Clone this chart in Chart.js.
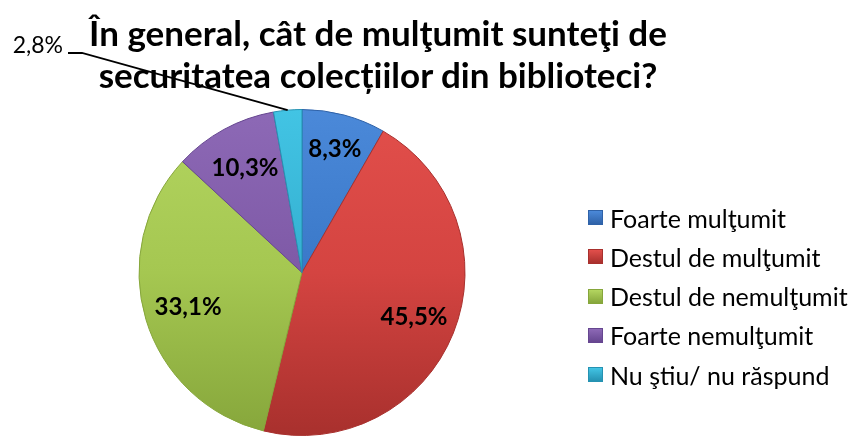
<!DOCTYPE html>
<html>
<head>
<meta charset="utf-8">
<script src="https://cdn.jsdelivr.net/npm/chart.js@4.4.1/dist/chart.umd.min.js"></script>
<style>
  html, body { margin: 0; padding: 0; background: #ffffff; }
  #wrap { position: relative; width: 849px; height: 436px; overflow: hidden; }
  #c { position: absolute; left: 0; top: 0; }
  #title { position: absolute; left: 0; top: 11px; width: 756px; text-align: center;
    font-family: Lato, "Open Sans", sans-serif; font-weight: 700; font-size: 35px; line-height: 42px; color: #000; }
  #legend { position: absolute; left: 588px; top: 198px; font-family: Lato, "Open Sans", sans-serif;
    font-size: 25px; color: #000; }
  .li { height: 39.25px; display: flex; align-items: center; white-space: nowrap; }
  .sw { width: 15px; height: 15px; margin-right: 7px; box-sizing: border-box; flex: none; }
</style>
</head>
<body>
<div id="wrap">
  <canvas id="c" width="849" height="436"></canvas>
  <div id="title"></div>
  <div id="legend"></div>
</div>
<script>
const titleLines = ["În general, cât de mulţumit sunteţi de", "securitatea colecțiilor din biblioteci?"];
const categories = ["Foarte mulţumit", "Destul de mulţumit", "Destul de nemulţumit", "Foarte nemulţumit", "Nu ştiu/ nu răspund"];
const values = [8.3, 45.5, 33.1, 10.3, 2.8];
const valueLabels = ["8,3%", "45,5%", "33,1%", "10,3%", "2,8%"];

const colorTop = ["#4b89d9", "#e24f4b", "#b3d560", "#8d69b6", "#42c4e4"];
const colorMid = ["#3a78c8", "#d44441", "#a5c751", "#7e59a6", "#34afd0"];
const colorBottom = ["#2f62a8", "#a8302d", "#86a63b", "#664690", "#2592b2"];

document.getElementById('title').innerHTML = titleLines.join('<br>');
const lg = document.getElementById('legend');
categories.forEach((c, i) => {
  const d = document.createElement('div'); d.className = 'li';
  const s = document.createElement('span'); s.className = 'sw';
  s.style.background = `linear-gradient(180deg, ${colorTop[i]}, ${colorBottom[i]})`;
  s.style.border = `1px solid ${colorBottom[i]}`;
  const t = document.createElement('span'); t.textContent = c;
  d.appendChild(s); d.appendChild(t); lg.appendChild(d);
});

function grad(ctx) {
  const chart = ctx.chart; const area = chart.chartArea; const i = ctx.dataIndex;
  if (!area) return colorMid[i];
  const g = chart.ctx.createLinearGradient(0, area.top, 0, area.bottom);
  g.addColorStop(0, colorTop[i]); g.addColorStop(0.5, colorMid[i]); g.addColorStop(1, colorBottom[i]);
  return g;
}

const labelPlugin = {
  id: 'labels',
  afterDatasetsDraw(chart) {
    const ctx = chart.ctx;
    const meta = chart.getDatasetMeta(0);
    ctx.save();
    ctx.fillStyle = '#000';
    meta.data.forEach((arc, i) => {
      const p = arc.getProps(['x', 'y', 'startAngle', 'endAngle', 'outerRadius'], true);
      const mid = (p.startAngle + p.endAngle) / 2;
      if (i === 4) {
        const ex = p.x + Math.cos(mid) * p.outerRadius;
        const ey = p.y + Math.sin(mid) * p.outerRadius;
        ctx.strokeStyle = '#000'; ctx.lineWidth = 1.8;
        ctx.beginPath(); ctx.moveTo(ex, ey); ctx.lineTo(82, 53); ctx.lineTo(68, 53); ctx.stroke();
        ctx.font = '400 23px Lato, "Open Sans", sans-serif';
        ctx.textAlign = 'right'; ctx.textBaseline = 'alphabetic';
        ctx.fillText(valueLabels[i], 63, 53);
      } else {
        ctx.font = '700 24px Lato, "Open Sans", sans-serif';
        ctx.textAlign = 'center'; ctx.textBaseline = 'middle';
        const r = p.outerRadius * (i === 0 ? 0.78 : i === 1 ? 0.74 : 0.73);
        ctx.fillText(valueLabels[i], p.x + Math.cos(mid) * r, p.y + Math.sin(mid) * r);
      }
    });
    ctx.restore();
  }
};

new Chart(document.getElementById('c'), {
  type: 'pie',
  data: {
    labels: categories,
    datasets: [{
      data: values,
      backgroundColor: grad,
      borderColor: colorBottom,
      borderWidth: 1
    }]
  },
  options: {
    responsive: false,
    animation: false,
    layout: { padding: { left: 138, right: 383, top: 109, bottom: -1 } },
    plugins: { legend: { display: false }, title: { display: false }, tooltip: { enabled: false } }
  },
  plugins: [labelPlugin]
});
</script>
</body>
</html>
